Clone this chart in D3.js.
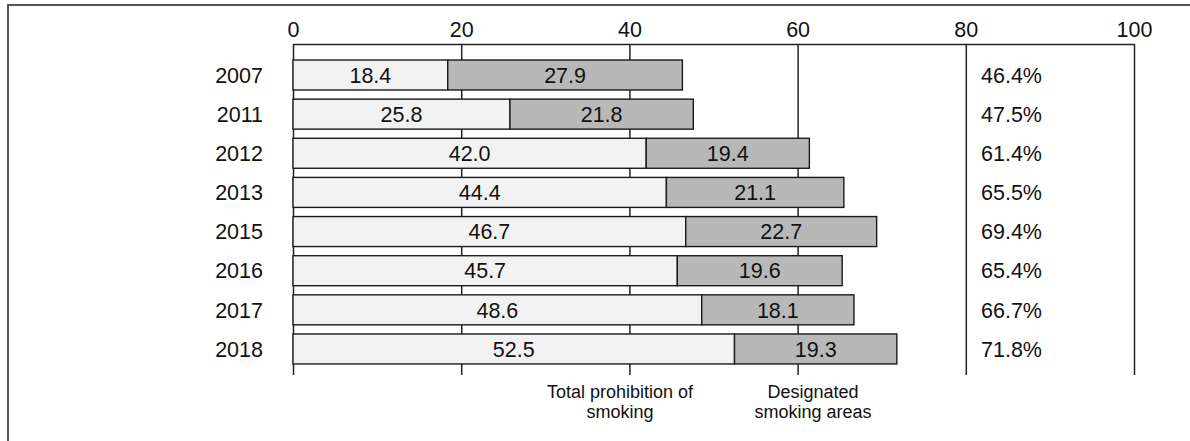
<!DOCTYPE html>
<html>
<head>
<meta charset="utf-8">
<script src="https://cdn.jsdelivr.net/npm/d3@7"></script>
<style>
  body { margin: 0; background: #fff; }
  text { font-family: "Liberation Sans", Arial, sans-serif; fill: #111; }
</style>
</head>
<body>
<script>
const years = ["2007", "2011", "2012", "2013", "2015", "2016", "2017", "2018"];
const totalBan = [18.4, 25.8, 42.0, 44.4, 46.7, 45.7, 48.6, 52.5];
const designated = [27.9, 21.8, 19.4, 21.1, 22.7, 19.6, 18.1, 19.3];
const sumLabels = ["46.4%", "47.5%", "61.4%", "65.5%", "69.4%", "65.4%", "66.7%", "71.8%"];
const tickValues = [0, 20, 40, 60, 80, 100];
const legendLabels = [["Total prohibition of", "smoking"], ["Designated", "smoking areas"]];

const width = 1190, height = 441;
const fs = 21.5;
const svg = d3.create("svg").attr("width", width).attr("height", height);

// outer frame (runs off the right/bottom edge)
svg.append("rect")
  .attr("x", 8).attr("y", 5)
  .attr("width", 1200).attr("height", 500)
  .attr("fill", "none").attr("stroke", "#444").attr("stroke-width", 1.8);

const x = d3.scaleLinear().domain([0, 100]).range([293, 1134]);
const step = 39.14;
const y = d3.scaleBand().domain(years)
  .range([60 - step * 0.1168, 60 - step * 0.1168 + step * 8])
  .paddingInner(0.2336).paddingOuter(0.1168);

const axisTop = 44, axisBottom = 375;

// axis + grid lines
const ax = svg.append("g")
  .attr("transform", `translate(0,${axisTop})`)
  .call(d3.axisTop(x).tickValues(tickValues)
    .tickSizeInner(-(axisBottom - axisTop)).tickSizeOuter(0).tickPadding(7));
ax.select(".domain").attr("stroke", "#222").attr("stroke-width", 1.5);
ax.selectAll(".tick line").attr("stroke", "#222").attr("stroke-width", 1.5);
ax.selectAll(".tick text")
  .attr("font-size", fs).attr("fill", "#111")
  .attr("font-family", "Liberation Sans, Arial, sans-serif");

// bars
const rows = svg.append("g").selectAll("g").data(years).join("g")
  .attr("transform", d => `translate(0,${y(d)})`);

rows.append("rect")
  .attr("x", x(0))
  .attr("width", (d, i) => x(totalBan[i]) - x(0))
  .attr("height", y.bandwidth())
  .attr("fill", "#f2f2f2").attr("stroke", "#1a1a1a").attr("stroke-width", 1.4);

rows.append("rect")
  .attr("x", (d, i) => x(totalBan[i]))
  .attr("width", (d, i) => x(totalBan[i] + designated[i]) - x(totalBan[i]))
  .attr("height", y.bandwidth())
  .attr("fill", "#b8b8b8").attr("stroke", "#1a1a1a").attr("stroke-width", 1.4);

const mid = y.bandwidth() / 2;

rows.append("text")
  .attr("x", (d, i) => (x(0) + x(totalBan[i])) / 2)
  .attr("y", mid).attr("dy", "0.36em")
  .attr("text-anchor", "middle").attr("font-size", fs)
  .text((d, i) => totalBan[i].toFixed(1));

rows.append("text")
  .attr("x", (d, i) => (x(totalBan[i]) + x(totalBan[i] + designated[i])) / 2)
  .attr("y", mid).attr("dy", "0.36em")
  .attr("text-anchor", "middle").attr("font-size", fs)
  .text((d, i) => designated[i].toFixed(1));

// year labels
rows.append("text")
  .attr("x", 263).attr("y", mid).attr("dy", "0.36em")
  .attr("text-anchor", "end").attr("font-size", fs)
  .text(d => d);

// totals column
rows.append("text")
  .attr("x", 981).attr("y", mid).attr("dy", "0.36em")
  .attr("font-size", fs)
  .text((d, i) => sumLabels[i]);

// legend labels under the axis
const legendX = [620, 813];
legendLabels.forEach((lines, i) => {
  const t = svg.append("text")
    .attr("x", legendX[i]).attr("y", 398)
    .attr("text-anchor", "middle").attr("font-size", 18);
  lines.forEach((s, j) => {
    t.append("tspan").attr("x", legendX[i]).attr("dy", j === 0 ? 0 : 19.5).text(s);
  });
});

d3.select("body").append(() => svg.node());
</script>
</body>
</html>
